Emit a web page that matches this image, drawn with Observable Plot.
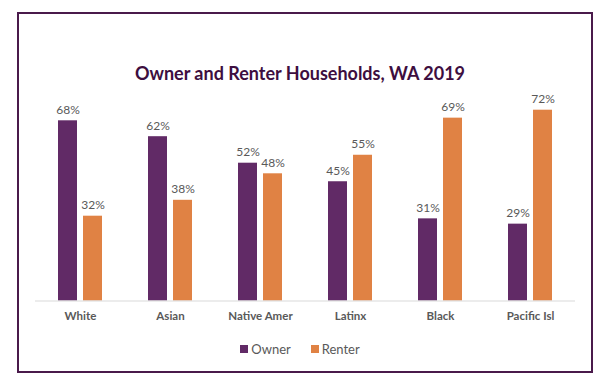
<!DOCTYPE html>
<html>
<head>
<meta charset="utf-8">
<script src="https://cdn.jsdelivr.net/npm/d3@7"></script>
<script src="https://cdn.jsdelivr.net/npm/@observablehq/plot@0.6"></script>
<style>
  body { margin: 0; background: #fff; }
  #wrap { position: relative; width: 600px; height: 382px; overflow: hidden; font-family: Lato, "Open Sans", sans-serif; }
  #frame { position: absolute; left: 17px; top: 12px; width: 576px; height: 361px; border: 2px solid #4a1a4b; box-sizing: border-box; }
  #title { position: absolute; left: 0; top: 62px; width: 600px; text-align: center; font-weight: bold; font-size: 18px; line-height: 22px; color: #3d0e40; }
  #chart { position: absolute; left: 0; top: 0; }
  #legend { position: absolute; left: 0; top: 341px; width: 600px; display: flex; justify-content: center; gap: 20px; font-size: 13px; line-height: 16px; color: #595959; }
  #legend .item { display: flex; align-items: center; }
  #legend .sw { width: 8px; height: 8px; margin-right: 3px; }
  g[aria-label="fx-axis tick label"] text { font-weight: bold; }
</style>
</head>
<body>
<div id="wrap">
  <div id="frame"></div>
  <div id="chart"></div>
  <div id="title">Owner and Renter Households, WA 2019</div>
  <div id="legend"></div>
</div>
<script>
const categories = ["White", "Asian", "Native Amer", "Latinx", "Black", "Pacific Isl"];
const owner = [68, 62, 52, 45, 31, 29];
const renter = [32, 38, 48, 55, 69, 72];
const seriesNames = ["Owner", "Renter"];
const seriesColors = ["#612a66", "#e08244"];

const data = categories.flatMap((c, i) => [
  {cat: c, type: seriesNames[0], v: owner[i]},
  {cat: c, type: seriesNames[1], v: renter[i]}
]);

const chart = Plot.plot({
  width: 600,
  height: 382,
  marginTop: 88.5,
  marginBottom: 81.5,
  marginLeft: 34,
  marginRight: 24,
  style: {fontFamily: "Lato, 'Open Sans', sans-serif", background: "transparent"},
  fx: {domain: categories, padding: 0, label: null},
  x: {domain: seriesNames, paddingInner: 0.2308, paddingOuter: 0.852, axis: null},
  y: {domain: [0, 80], axis: null},
  color: {domain: seriesNames, range: seriesColors},
  marks: [
    Plot.barY(data, {fx: "cat", x: "type", y: "v", fill: "type"}),
    Plot.ruleY([0], {stroke: "#d9d9d9", strokeWidth: 1}),
    Plot.text(data, {fx: "cat", x: "type", y: "v", text: d => d.v + "%", dy: -7, lineAnchor: "bottom", fill: "#595959", fontSize: 12}),
    Plot.axisFx({anchor: "bottom", tickSize: 0, tickPadding: 11, fontSize: 11.5, fill: "#595959", fontWeight: "bold", label: null})
  ]
});
document.getElementById("chart").appendChild(chart);

const legend = document.getElementById("legend");
seriesNames.forEach((name, i) => {
  const item = document.createElement("div");
  item.className = "item";
  const sw = document.createElement("span");
  sw.className = "sw";
  sw.style.background = seriesColors[i];
  const t = document.createElement("span");
  t.textContent = name;
  item.appendChild(sw);
  item.appendChild(t);
  legend.appendChild(item);
});
</script>
</body>
</html>
